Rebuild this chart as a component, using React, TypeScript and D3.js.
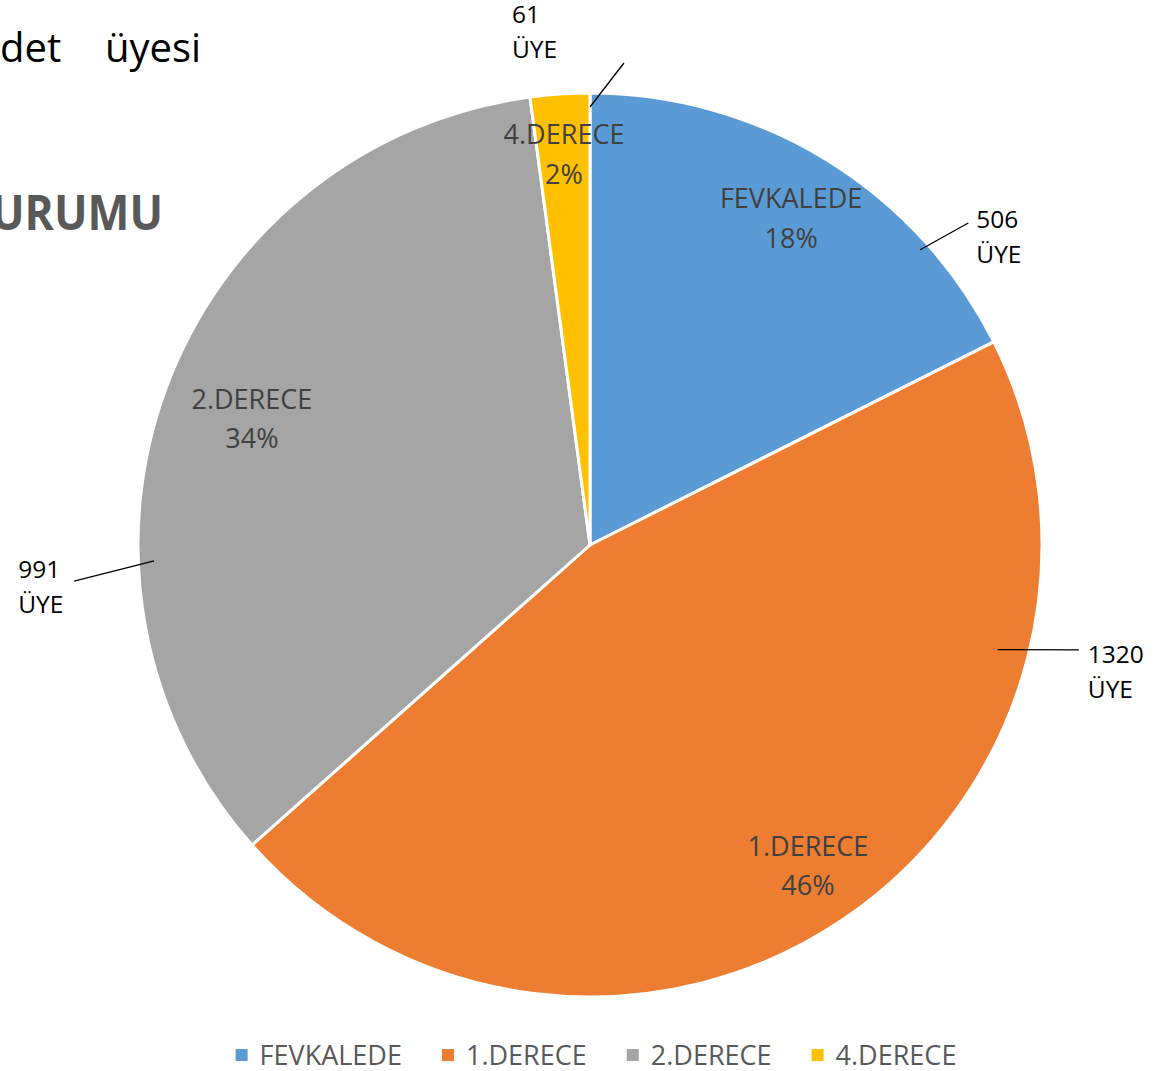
import React, { useEffect, useRef } from "react";
import * as d3 from "d3";

const CATEGORIES = ["FEVKALEDE", "1.DERECE", "2.DERECE", "4.DERECE"];
const VALUES = [506, 1320, 991, 61];
const UNIT = "ÜYE";
const COLORS = ["#5B9BD5", "#ED7D31", "#A5A5A5", "#FFC000"];

// layout (not data): inner label radial factor, outer leader line polar coordinates
const INNER_R = [0.848, 0.859, 0.798, 0.865];
const OUTER = [
  { a0: 48.2, r0: 0.98, a1: 49.6, r1: 1.099, tx: 8, ty: 5, anchor: "start" },
  { a0: 104.4, r0: 0.931, a1: 102.1, r1: 1.106, tx: 9, ty: 13, anchor: "start" },
  { a0: 267.9, r0: 0.965, a1: 266, r1: 1.144, tx: -56, ty: -3, anchor: "start" },
  { a0: 0, r0: 0.969, a1: 4.03, r1: 1.069, tx: -112, ty: -40, anchor: "start" },
];

const W = 1163;
const H = 1071;
const FONT = "'Open Sans', 'Noto Sans', sans-serif";

export default function App() {
  const ref = useRef<SVGSVGElement>(null);
  useEffect(() => {
    const svg = d3.select(ref.current);
    svg.selectAll("*").remove();
    const cx = 590, cy = 545, R = 452;
    const total = d3.sum(VALUES);
    const pie = d3.pie<number>().sort(null).value((d) => d);
    const arcs = pie(VALUES);
    const arc = d3.arc<d3.PieArcDatum<number>>().innerRadius(0).outerRadius(R);

    // title fragments (clipped at left)
    svg.append("text").attr("x", 0).attr("y", 62).attr("font-family", FONT)
      .attr("font-size", 40).attr("fill", "#000").text("det");
    svg.append("text").attr("x", 105).attr("y", 62).attr("font-family", FONT)
      .attr("font-size", 40).attr("fill", "#000").text("üyesi");
    svg.append("text").attr("x", 163).attr("y", 230).attr("font-family", FONT)
      .attr("font-size", 48).attr("font-weight", 700).attr("fill", "#595959")
      .attr("text-anchor", "end").attr("textLength", 172).attr("lengthAdjust", "spacingAndGlyphs")
      .text("URUMU");

    const g = svg.append("g").attr("transform", `translate(${cx},${cy})`);
    g.selectAll("path.slice").data(arcs).enter().append("path")
      .attr("class", "slice")
      .attr("d", arc as any)
      .attr("fill", (_d, i) => COLORS[i])
      .attr("stroke", "#fff").attr("stroke-width", 3).attr("stroke-linejoin", "round");

    // inner labels
    arcs.forEach((a, i) => {
      const mid = (a.startAngle + a.endAngle) / 2;
      const [x, y] = d3.pointRadial(mid, R * INNER_R[i]);
      const t = g.append("text").attr("font-family", FONT).attr("font-size", 27)
        .attr("fill", "#404040").attr("text-anchor", "middle");
      t.append("tspan").attr("x", x).attr("y", y - 10.5).text(CATEGORIES[i]);
      t.append("tspan").attr("x", x).attr("y", y + 29)
        .text(Math.round((VALUES[i] / total) * 100) + "%");
    });

    // outer value labels with leader lines
    OUTER.forEach((o, i) => {
      const [x0, y0] = d3.pointRadial((o.a0 * Math.PI) / 180, R * o.r0);
      const [x1, y1] = d3.pointRadial((o.a1 * Math.PI) / 180, R * o.r1);
      g.append("line").attr("x1", x0).attr("y1", y0).attr("x2", x1).attr("y2", y1)
        .attr("stroke", "#000").attr("stroke-width", 1.3);
      const t = g.append("text").attr("font-family", FONT).attr("font-size", 24.5)
        .attr("fill", "#000").attr("text-anchor", o.anchor);
      t.append("tspan").attr("x", x1 + o.tx).attr("y", y1 + o.ty).text(String(VALUES[i]));
      t.append("tspan").attr("x", x1 + o.tx).attr("y", y1 + o.ty + 35).text(UNIT);
    });

    // legend
    const lg = svg.append("g");
    const items = CATEGORIES.map((c, i) => {
      const it = lg.append("g");
      it.append("rect").attr("width", 12).attr("height", 12).attr("y", -12 / 2).attr("fill", COLORS[i]);
      const tx = it.append("text").attr("x", 24).attr("y", 10).attr("font-family", FONT)
        .attr("font-size", 27).attr("fill", "#595959").text(c);
      const w = (tx.node() as SVGTextElement).getComputedTextLength();
      return { it, w: 24 + w };
    });
    const gap = 40;
    const totalW = d3.sum(items, (d) => d.w) + gap * (items.length - 1);
    let x = 596 - totalW / 2;
    items.forEach((d) => {
      d.it.attr("transform", `translate(${x},1055)`);
      x += d.w + gap;
    });
  }, []);
  return (
    <svg ref={ref} width={W} height={H}
      style={{ position: "absolute", left: 0, top: 0, display: "block", background: "#fff" }} />
  );
}
